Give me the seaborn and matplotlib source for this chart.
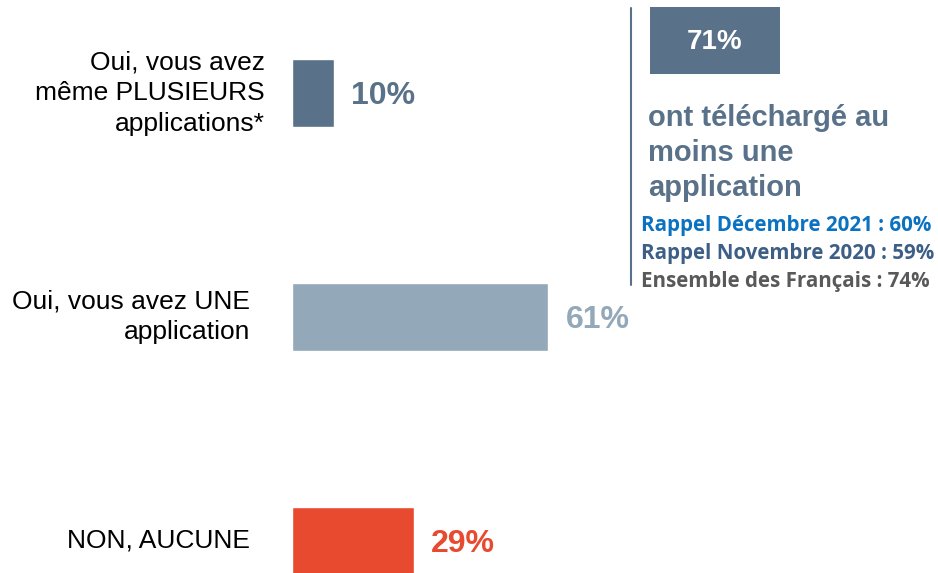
import matplotlib
matplotlib.use("Agg")
import matplotlib.pyplot as plt
import seaborn as sns
from matplotlib.patches import Rectangle
from matplotlib.lines import Line2D

# donnees
categories = ["Oui, vous avez\nmême PLUSIEURS\napplications*",
              "Oui, vous avez UNE\napplication",
              "NON, AUCUNE"]
values = [10, 61, 29]
bar_colors = ["#5A7289", "#93A8B9", "#E84A30"]
label_colors = ["#5A7289", "#93A8B9", "#E84A30"]
total_value = 71
total_text = "ont téléchargé au\nmoins une\napplication"
rappel_lines = ["Rappel Décembre 2021 : 60%",
                "Rappel Novembre 2020 : 59%",
                "Ensemble des Français : 74%"]
rappel_colors = ["#0B72C2", "#3D5F85", "#595959"]

sns.set_style("white")
plt.rcParams['font.family'] = ['Liberation Sans', 'DejaVu Sans']

W, H = 938, 573
fig = plt.figure(figsize=(W / 100, H / 100), dpi=100)
# axe des barres : gauche a x=292 px, 100% = 420 px
ax = fig.add_axes([292 / W, 0, 420 / W, 1])
sns.barplot(x=values, y=categories, hue=categories, palette=bar_colors,
            legend=False, width=0.3, orient="h", saturation=1, ax=ax)
ax.set_xlim(0, 100)
ax.set_ylim(2.143, -0.415)
ax.axis("off")

# valeurs a droite des barres
for i, (v, c) in enumerate(zip(values, label_colors)):
    ax.annotate(f"{v}%", (v, i), xytext=(12.5, -2.5), textcoords="offset points",
                ha="left", va="center", fontsize=23, fontweight="bold", color=c)

# libelles a gauche
label_x = [-27 / 420, -42 / 420, -42 / 420]
for i, (lab, lx) in enumerate(zip(categories, label_x)):
    ax.text(lx, i, lab, transform=ax.get_yaxis_transform(), ha="right",
            va="center", fontsize=19, color="black", linespacing=1.35)

# panneau de droite
fig.add_artist(Line2D([631 / W, 631 / W], [1 - 8 / H, 1 - 285 / H],
                      color="#5A7289", lw=1.5))
fig.add_artist(Rectangle((650 / W, 1 - 74 / H), 130 / W, 67 / H,
                         facecolor="#5A7289", edgecolor="none"))
fig.text(715 / W, 1 - 42 / H, f"{total_value}%", ha="center", va="center",
         fontsize=20, fontweight="bold", color="white")
fig.text(648 / W, 1 - 153 / H, total_text, ha="left", va="center",
         fontsize=21, fontweight="bold", color="#5A7289", linespacing=1.3)
for j, (t, c) in enumerate(zip(rappel_lines, rappel_colors)):
    fig.text(641 / W, 1 - (226 + 28 * j) / H, t, ha="left", va="center",
             fontsize=14.8, fontweight="bold", color=c,
             family=['Open Sans', 'DejaVu Sans'])

fig.savefig("out.png", dpi=100)
